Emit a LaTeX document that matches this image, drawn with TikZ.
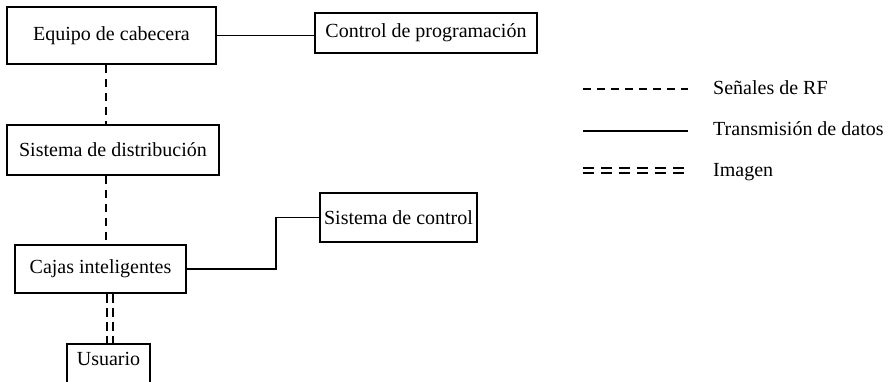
\documentclass[tikz,border=0pt]{standalone}
\usepackage{fontspec}
\setmainfont{Liberation Serif}
\usetikzlibrary{calc}
\begin{document}
\begin{tikzpicture}[x=1pt,y=-1pt,
  box/.style={draw,line width=1.6pt,rectangle,inner sep=0pt,font=\fontsize{20}{22}\selectfont},
  lbl/.style={anchor=base west,inner sep=0pt,font=\fontsize{20}{22}\selectfont},
  rf/.style={line width=1.6pt,dash pattern=on 8pt off 6pt},
  datos/.style={line width=1.4pt},
  imagen/.style={line width=1.4pt,dash pattern=on 9pt off 5pt}]
  \useasboundingbox (0,0) rectangle (888,382);
  \clip (0,0) rectangle (888,382);

  % boxes
  \node (eq) [box,minimum width=209pt,minimum height=57pt] at (111.5,35.5) {Equipo de cabecera};
  \node (cp) [box,minimum width=222pt,minimum height=40pt] at (426,33) {Control de programación};
  \node (sd) [box,minimum width=212pt,minimum height=50pt] at (113,150) {Sistema de distribución};
  \node (cj) [box,minimum width=171pt,minimum height=48pt] at (100.5,269) {Cajas inteligentes};
  \node (sc) [box,minimum width=157pt,minimum height=49pt] at (398.5,217.5) {Sistema de control};
  \node (us) [box,anchor=north,minimum width=83pt,inner ysep=5pt,text height=17pt,text depth=32pt] at (108.5,343) {Usuario};

  % connectors
  \coordinate (rfx) at (106,0);
  \coordinate (bx) at (276,0);
  \draw[datos] (eq.east) -- (eq.east -| cp.west);
  \draw[rf] (rfx |- eq.south) -- (rfx |- sd.north);
  \draw[rf] (rfx |- sd.south) -- (rfx |- cj.north);
  \draw[datos] (cj.east) -- (bx |- cj.east) -- (bx |- sc.west) -- (sc.west);
  \draw[imagen] ($(cj.south -| rfx)+(1,0)$) -- ($(us.north -| rfx)+(1,0)$);
  \draw[imagen] ($(cj.south -| rfx)+(7,0)$) -- ($(us.north -| rfx)+(7,0)$);

  % legend
  \coordinate (l1) at (583,89);
  \coordinate (l2) at (583,131);
  \coordinate (l3) at (583,170.5);
  \draw[rf] (l1) -- ++(105,0);
  \node (t1) [lbl] at (713,95) {Señales de RF};
  \draw[datos] (l2) -- ++(105,0);
  \node (t2) [lbl] at (713,136) {Transmisión de datos};
  \draw[imagen,dash pattern=on 11pt off 7pt] ($(l3)+(0,-2.5)$) -- ++(105,0);
  \draw[imagen,dash pattern=on 11pt off 7pt] ($(l3)+(0,2.5)$) -- ++(105,0);
  \node (t3) [lbl] at (713,176) {Imagen};
\end{tikzpicture}
\end{document}
